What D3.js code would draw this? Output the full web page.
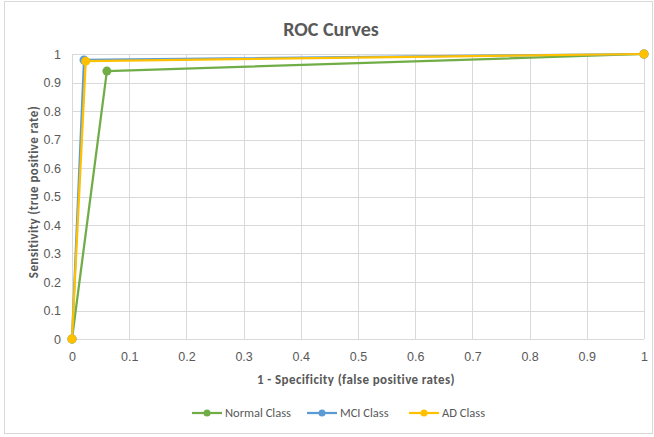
<!DOCTYPE html>
<html>
<head>
<meta charset="utf-8">
<script src="https://cdn.jsdelivr.net/npm/d3@7"></script>
<style>
  html, body { margin: 0; padding: 0; background: #fff; }
  svg { display: block; font-family: Carlito, "Open Sans", "Liberation Sans", sans-serif; }
</style>
</head>
<body>
<svg id="chart" width="654" height="437"></svg>
<script>
// ROC points (false positive rate, true positive rate) per class
const seriesNames = ["Normal Class", "MCI Class", "AD Class"];
const seriesColors = ["#70AD47", "#5B9BD5", "#FFC000"];
const normalFpr = [0, 0.061, 1];
const normalTpr = [0, 0.94, 1];
const mciFpr = [0, 0.021, 1];
const mciTpr = [0, 0.979, 1];
const adFpr = [0, 0.024, 1];
const adTpr = [0, 0.975, 1];
const xTicks = [0, 0.1, 0.2, 0.3, 0.4, 0.5, 0.6, 0.7, 0.8, 0.9, 1];
const yTicks = [0, 0.1, 0.2, 0.3, 0.4, 0.5, 0.6, 0.7, 0.8, 0.9, 1];

const series = [
  { name: seriesNames[0], color: seriesColors[0], pts: normalFpr.map((x, i) => [x, normalTpr[i]]) },
  { name: seriesNames[1], color: seriesColors[1], pts: mciFpr.map((x, i) => [x, mciTpr[i]]) },
  { name: seriesNames[2], color: seriesColors[2], pts: adFpr.map((x, i) => [x, adTpr[i]]) }
];

const svg = d3.select("#chart");
const textColor = "#595959";

// chart frame
svg.append("rect")
  .attr("x", 4.5).attr("y", 1.5).attr("width", 648).attr("height", 432)
  .attr("fill", "#fff").attr("stroke", "#d9d9d9").attr("stroke-width", 1);

const x = d3.scaleLinear().domain([0, 1]).range([72, 644]);
const y = d3.scaleLinear().domain([0, 1]).range([339, 54]);

// gridlines
const grid = svg.append("g");
grid.selectAll("line.h").data(yTicks).join("line")
  .attr("x1", x(0)).attr("x2", x(1))
  .attr("y1", d => Math.round(y(d)) + 0.5).attr("y2", d => Math.round(y(d)) + 0.5)
  .attr("stroke", "#d9d9d9").attr("stroke-width", 1);
grid.selectAll("line.v").data(xTicks).join("line")
  .attr("y1", y(0)).attr("y2", y(1))
  .attr("x1", d => Math.round(x(d)) + 0.5).attr("x2", d => Math.round(x(d)) + 0.5)
  .attr("stroke", "#d9d9d9").attr("stroke-width", 1);

// axes (labels only; gridlines carry the rules)
const xAxis = svg.append("g").attr("transform", `translate(0,${y(0) + 8})`)
  .call(d3.axisBottom(x).tickValues(xTicks).tickSize(0).tickFormat(d3.format("~g")));
const yAxis = svg.append("g").attr("transform", `translate(${x(0) - 8},0)`)
  .call(d3.axisLeft(y).tickValues(yTicks).tickSize(0).tickFormat(d3.format("~g")));
[xAxis, yAxis].forEach(a => {
  a.select(".domain").remove();
  a.selectAll("text").attr("fill", textColor).style("font-size", "12.5px");
});
xAxis.selectAll("text").attr("dy", "0.9em");

// title and axis titles
svg.append("text").attr("x", 331).attr("y", 36).attr("text-anchor", "middle")
  .attr("fill", textColor).style("font-size", "20px").style("font-weight", "bold")
  .text("ROC Curves");
svg.append("text").attr("x", 356).attr("y", 384).attr("text-anchor", "middle")
  .attr("fill", textColor).style("font-size", "13px").style("font-weight", "bold")
  .style("letter-spacing", "0.4px")
  .text("1 - Specificity (false positive rates)");
svg.append("text").attr("transform", "translate(38,192) rotate(-90)").attr("text-anchor", "middle")
  .attr("fill", textColor).style("font-size", "13px").style("font-weight", "bold")
  .style("letter-spacing", "0.4px")
  .text("Sensitivity (true positive rate)");

// ROC lines with markers
const line = d3.line().x(d => x(d[0])).y(d => y(d[1]));
const plot = svg.append("g");
series.forEach(s => {
  plot.append("path").datum(s.pts)
    .attr("d", line).attr("fill", "none")
    .attr("stroke", s.color).attr("stroke-width", 2.25).attr("stroke-linejoin", "round");
  plot.selectAll(null).data(s.pts).join("circle")
    .attr("cx", d => x(d[0])).attr("cy", d => y(d[1])).attr("r", 4.5)
    .attr("fill", s.color);
});

// legend
const legendX = [192, 307, 409];
const legend = svg.append("g");
series.forEach((s, i) => {
  const g = legend.append("g").attr("transform", `translate(${legendX[i]},413)`);
  g.append("line").attr("x1", 0).attr("x2", 30).attr("stroke", s.color).attr("stroke-width", 2.25);
  g.append("circle").attr("cx", 15).attr("r", 3.5).attr("fill", s.color);
  g.append("text").attr("x", 33).attr("dy", "0.35em").attr("fill", textColor)
    .style("font-size", "12.5px").text(s.name);
});
</script>
</body>
</html>
